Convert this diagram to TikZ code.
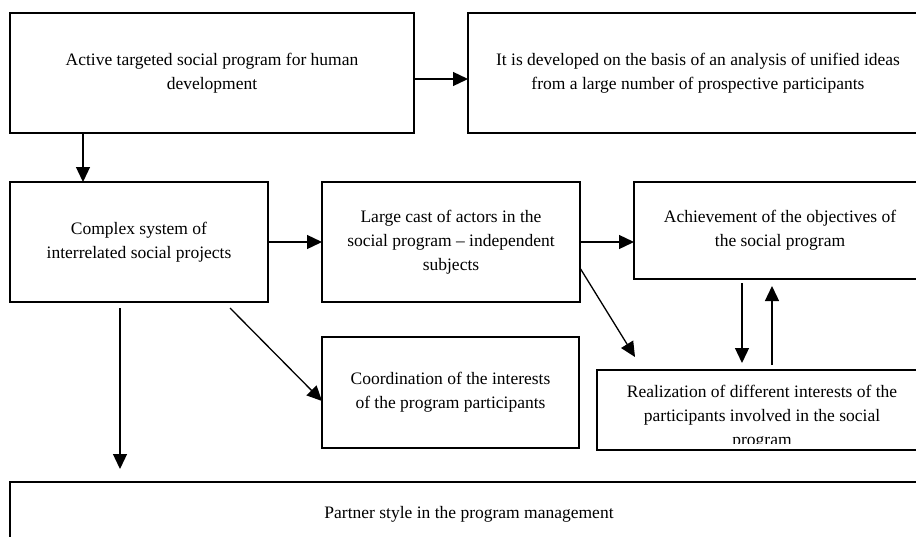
\documentclass[tikz,border=0pt]{standalone}
\usepackage{fontspec}
\setmainfont{Liberation Serif}
\usetikzlibrary{arrows.meta}

\begin{document}
\begin{tikzpicture}[x=1pt,y=-1pt,>={Triangle[length=15pt,width=14pt]},line width=1.3pt]

\tikzstyle{box}=[
	draw,
	rectangle,
	inner sep=0pt,
	outer sep=0pt,
	align=center,
	font=\fontsize{17.5}{24}\selectfont,
	anchor=north west
]

\useasboundingbox (0,0) rectangle (916,536);

%% TOP ROW
\node (actprog) [box, minimum width=404, minimum height=120] at (10,13) {%
Active targeted social program for human\\development};
\node (basis) [box, minimum width=460, minimum height=120] at (468,13) {%
It is developed on the basis of an analysis of unified ideas\\from a large number of prospective participants};

%% MIDDLE ROW
\node (complex) [box, minimum width=258, minimum height=120] at (10,182) {%
Complex system of\\interrelated social projects};
\node (actors) [box, minimum width=258, minimum height=120] at (322,182) {%
Large cast of actors in the\\social program -- independent\\subjects};
\node (goals) [box, minimum width=292, minimum height=97] at (634,182) {%
Achievement of the objectives of\\the social program};

%% LOWER ROW
\node (coord) [box, minimum width=257, minimum height=111] at (322,337) {%
Coordination of the interests\\of the program participants};
\begin{scope}
\clip (597,370) rectangle (927,443);
\node (intertext) [box, draw=none, anchor=center] at (762,417) {%
Realization of different interests of the\\participants involved in the social\\program};
\end{scope}
\node (interests) [box, minimum width=330, minimum height=80] at (597,370) {};

%% BOTTOM
\node (partner) [box, minimum width=918, minimum height=64] at (10,482) {%
Partner style in the program management};

\draw[->] ([yshift=-6pt]actprog.east) -- ([yshift=-6pt]basis.west);
\draw[->] ([xshift=73pt]actprog.south west) -- ([xshift=73pt]complex.north west);
\draw[->] (complex.east) -- (actors.west);
\draw[->] (actors.east) -- (actors.east -| goals.west);
\draw[->] ([xshift=220pt,yshift=-6pt]complex.south west) -- ([yshift=-64pt]coord.north west);
\draw[->] ([yshift=-26pt]actors.east) -- ([xshift=38pt,yshift=13pt]interests.north west);
\draw[->] ([xshift=108pt,yshift=-4pt]goals.south west) -- ([xshift=145pt,yshift=7pt]interests.north west);
\draw[->] ([xshift=175pt,yshift=5pt]interests.north west) -- ([xshift=138pt,yshift=-7pt]goals.south west);
\draw[->] ([xshift=110pt,yshift=-6pt]complex.south west) -- ([xshift=110pt,yshift=13pt]partner.north west);

\end{tikzpicture}
\end{document}
